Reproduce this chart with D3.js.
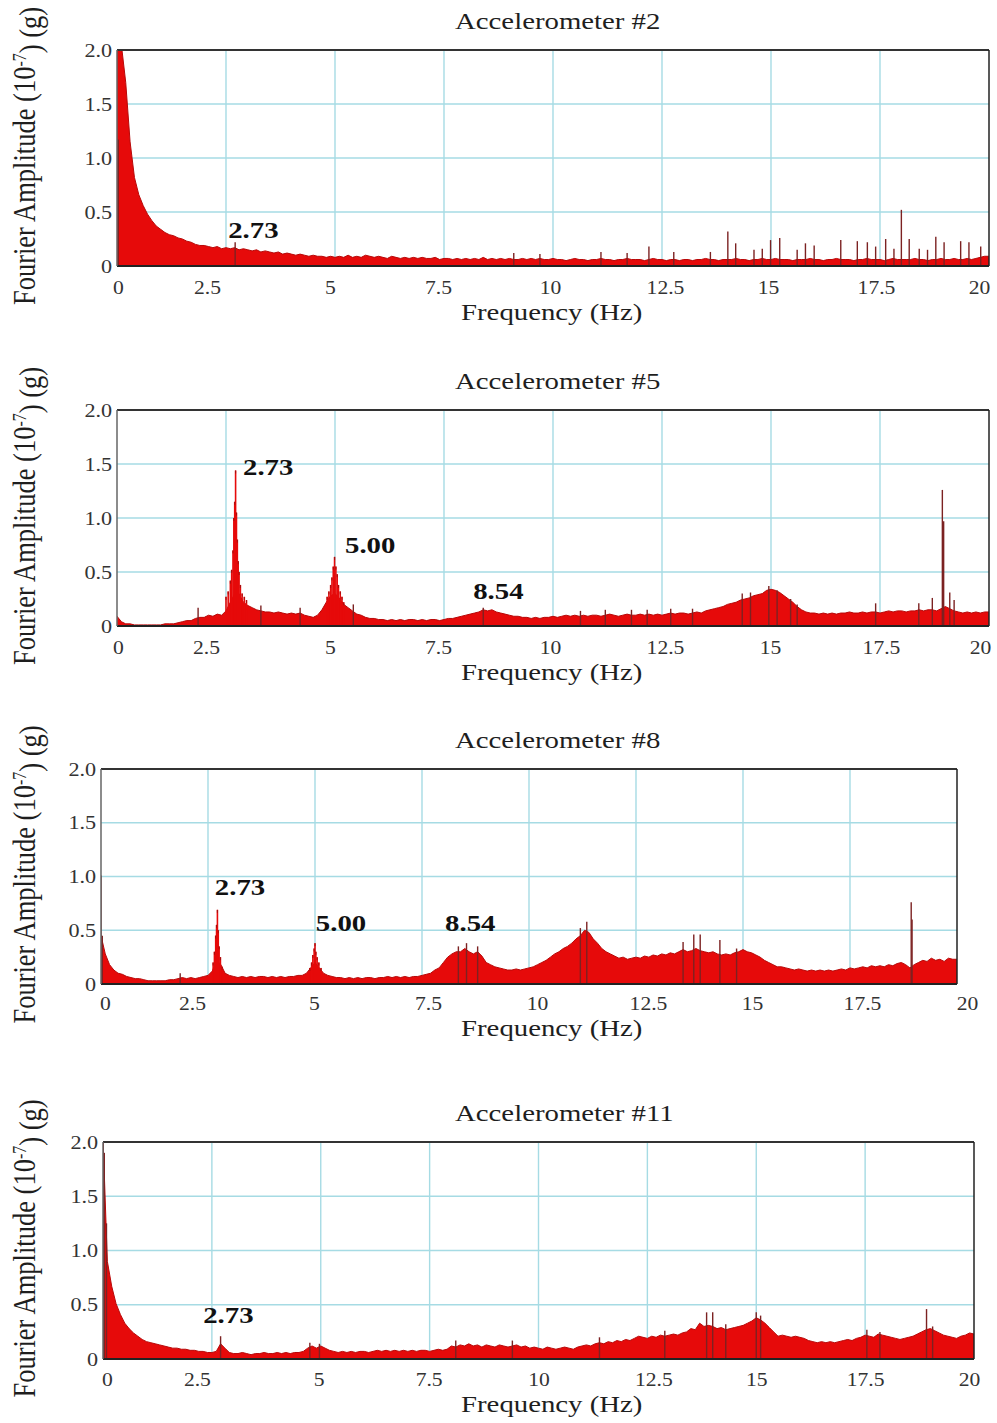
<!DOCTYPE html>
<html><head><meta charset="utf-8">
<script src="https://cdn.jsdelivr.net/npm/d3@7"></script>
<style>
body{margin:0;background:#fff}
svg{display:block}
text{font-family:"Liberation Serif","Times New Roman",serif;fill:#1e1e1e}
</style>
</head><body>
<svg id="chart" width="997" height="1423"></svg>
<script>
// ---------------- DATA ----------------
const xTicks = [0, 2.5, 5, 7.5, 10, 12.5, 15, 17.5, 20];
const xTickLabels = ["0", "2.5", "5", "7.5", "10", "12.5", "15", "17.5", "20"];
const yTicks = [0, 0.5, 1.0, 1.5, 2.0];
const yTickLabels = ["0", "0.5", "1.0", "1.5", "2.0"];
const titles = ["Accelerometer #2", "Accelerometer #5", "Accelerometer #8", "Accelerometer #11"];
const xLabel = "Frequency (Hz)";
const freqStep = 0.1; // spectrum sampled every 0.1 Hz, from 0 to 20 Hz

// Accelerometer #2 : spectrum envelope (0.0 .. 20.0 Hz)
const acc2Amp = [
 2.05,2.05,1.70,1.15,0.82,0.66,0.56,0.48,0.42,0.37,
 0.34,0.31,0.29,0.28,0.26,0.25,0.23,0.22,0.20,0.19,
 0.19,0.18,0.17,0.18,0.16,0.17,0.16,0.17,0.15,0.16,
 0.15,0.14,0.15,0.13,0.14,0.13,0.12,0.13,0.11,0.12,
 0.11,0.10,0.11,0.10,0.09,0.10,0.09,0.09,0.08,0.09,
 0.08,0.09,0.08,0.10,0.08,0.09,0.08,0.10,0.09,0.08,
 0.09,0.08,0.07,0.09,0.08,0.07,0.08,0.07,0.08,0.07,
 0.08,0.07,0.07,0.08,0.06,0.07,0.07,0.06,0.07,0.06,
 0.07,0.06,0.07,0.06,0.08,0.06,0.07,0.06,0.07,0.06,
 0.07,0.06,0.06,0.07,0.06,0.07,0.06,0.07,0.06,0.06,
 0.07,0.06,0.06,0.05,0.06,0.07,0.06,0.06,0.05,0.06,
 0.06,0.07,0.06,0.06,0.05,0.06,0.06,0.07,0.06,0.06,
 0.06,0.05,0.06,0.07,0.06,0.06,0.05,0.06,0.06,0.05,
 0.06,0.06,0.05,0.06,0.06,0.07,0.06,0.06,0.05,0.06,
 0.06,0.06,0.07,0.06,0.06,0.05,0.06,0.06,0.07,0.06,
 0.06,0.07,0.06,0.06,0.06,0.05,0.06,0.06,0.06,0.07,
 0.06,0.06,0.05,0.06,0.06,0.07,0.06,0.06,0.06,0.05,
 0.06,0.06,0.07,0.06,0.06,0.06,0.05,0.06,0.07,0.06,
 0.06,0.06,0.06,0.07,0.06,0.06,0.05,0.06,0.06,0.07,
 0.06,0.06,0.07,0.06,0.06,0.07,0.06,0.07,0.08,0.09,
 0.09];
const acc2Lines = [];
const acc2Spikes = [[0.03,1.17],[2.71,0.22],[9.1,0.12],[9.7,0.11],[11.1,0.13],[11.7,0.12],
 [12.2,0.18],[12.77,0.13],[13.61,0.13],[14.01,0.32],[14.19,0.21],[14.61,0.15],[14.8,0.16],
 [14.99,0.24],[15.2,0.26],[15.6,0.15],[15.79,0.21],[15.99,0.19],[16.6,0.24],[16.98,0.23],
 [17.21,0.22],[17.4,0.18],[17.63,0.25],[17.82,0.16],[17.99,0.52],[18.17,0.25],[18.4,0.16],
 [18.59,0.15],[18.78,0.27],[18.97,0.22],[19.35,0.23],[19.54,0.22],[19.81,0.18]];
const acc2Peaks = [["2.73", 2.55, 0.26]];

// Accelerometer #5
const acc5Amp = [
 0.09,0.04,0.02,0.02,0.01,0.01,0.01,0.01,0.01,0.01,
 0.01,0.02,0.02,0.02,0.03,0.04,0.05,0.05,0.07,0.08,
 0.08,0.10,0.09,0.11,0.10,0.14,0.22,0.30,0.30,0.22,
 0.19,0.17,0.15,0.14,0.13,0.13,0.12,0.13,0.12,0.11,
 0.12,0.11,0.12,0.10,0.09,0.08,0.10,0.15,0.22,0.28,
 0.30,0.26,0.20,0.17,0.14,0.11,0.10,0.08,0.07,0.07,
 0.06,0.06,0.05,0.06,0.05,0.06,0.05,0.06,0.06,0.05,
 0.06,0.05,0.06,0.06,0.05,0.06,0.07,0.07,0.08,0.09,
 0.10,0.11,0.12,0.13,0.15,0.14,0.15,0.13,0.12,0.11,
 0.10,0.09,0.09,0.08,0.08,0.07,0.08,0.07,0.08,0.08,
 0.09,0.08,0.09,0.10,0.09,0.10,0.09,0.10,0.09,0.10,
 0.10,0.09,0.10,0.11,0.10,0.09,0.10,0.11,0.10,0.10,
 0.11,0.10,0.11,0.10,0.11,0.10,0.11,0.12,0.11,0.12,
 0.12,0.11,0.12,0.13,0.12,0.14,0.15,0.16,0.17,0.18,
 0.20,0.21,0.22,0.24,0.25,0.26,0.28,0.29,0.30,0.33,
 0.34,0.33,0.31,0.28,0.25,0.22,0.18,0.15,0.13,0.12,
 0.12,0.11,0.12,0.11,0.12,0.11,0.12,0.12,0.13,0.12,
 0.12,0.13,0.12,0.13,0.13,0.12,0.13,0.14,0.13,0.14,
 0.14,0.13,0.14,0.14,0.15,0.14,0.15,0.15,0.14,0.16,
 0.18,0.16,0.14,0.13,0.12,0.13,0.12,0.13,0.12,0.13,
 0.13];
const acc5Lines = [[2.50,0.27],[2.55,0.32],[2.60,0.42],[2.63,0.52],[2.66,0.70],[2.68,1.00],[2.70,1.15],
 [2.72,1.44],[2.74,1.05],[2.76,0.80],[2.78,0.60],[2.80,0.50],[2.83,0.38],[2.87,0.30],[2.92,0.27],[2.97,0.24],
 [4.82,0.27],[4.86,0.32],[4.90,0.38],[4.93,0.45],[4.96,0.55],[4.99,0.64],[5.02,0.55],[5.05,0.48],
 [5.08,0.38],[5.12,0.32],[5.16,0.27],[5.20,0.22]];
const acc5Spikes = [[1.86,0.17],[3.3,0.19],[4.2,0.17],[5.42,0.2],[8.4,0.17],[10.63,0.14],[11.2,0.15],
 [11.8,0.15],[12.16,0.15],[12.7,0.16],[13.2,0.16],[14.34,0.30],[14.53,0.31],[14.95,0.37],[15.14,0.33],
 [15.45,0.25],[15.6,0.2],[17.4,0.21],[18.39,0.21],[18.7,0.26],[18.93,1.26],[18.96,0.97],[19.1,0.31],[19.2,0.24]];
const acc5Peaks = [["2.73", 2.89, 1.40], ["5.00", 5.23, 0.68], ["8.54", 8.17, 0.25]];

// Accelerometer #8
const acc8Amp = [
 0.45,0.28,0.18,0.13,0.10,0.09,0.07,0.06,0.05,0.05,
 0.04,0.03,0.03,0.03,0.03,0.03,0.04,0.04,0.05,0.06,
 0.05,0.06,0.05,0.06,0.07,0.08,0.12,0.22,0.18,0.10,
 0.08,0.07,0.06,0.07,0.06,0.07,0.06,0.07,0.07,0.06,
 0.07,0.06,0.07,0.06,0.07,0.07,0.08,0.08,0.10,0.15,
 0.20,0.15,0.10,0.08,0.07,0.06,0.06,0.05,0.06,0.05,
 0.06,0.05,0.06,0.06,0.05,0.06,0.06,0.07,0.06,0.07,
 0.06,0.07,0.06,0.07,0.07,0.08,0.09,0.10,0.13,0.15,
 0.20,0.25,0.28,0.30,0.30,0.33,0.30,0.28,0.30,0.26,
 0.20,0.18,0.16,0.15,0.14,0.13,0.13,0.14,0.13,0.14,
 0.15,0.16,0.18,0.20,0.22,0.25,0.28,0.30,0.33,0.35,
 0.38,0.42,0.45,0.50,0.48,0.42,0.38,0.33,0.30,0.28,
 0.26,0.24,0.25,0.23,0.24,0.25,0.24,0.26,0.25,0.27,
 0.26,0.28,0.27,0.29,0.28,0.30,0.32,0.30,0.31,0.33,
 0.31,0.30,0.29,0.30,0.28,0.27,0.28,0.27,0.29,0.30,
 0.32,0.30,0.29,0.27,0.25,0.22,0.20,0.18,0.16,0.16,
 0.15,0.14,0.13,0.14,0.13,0.12,0.13,0.12,0.13,0.12,
 0.13,0.12,0.13,0.14,0.13,0.15,0.14,0.15,0.16,0.15,
 0.17,0.16,0.17,0.16,0.18,0.17,0.19,0.20,0.18,0.15,
 0.18,0.20,0.22,0.21,0.24,0.22,0.23,0.21,0.24,0.23,
 0.23];
const acc8Lines = [[2.62,0.20],[2.65,0.30],[2.68,0.45],[2.70,0.55],[2.72,0.69],[2.74,0.50],[2.76,0.35],
 [2.79,0.25],[2.83,0.16],[4.88,0.15],[4.92,0.20],[4.95,0.27],[4.98,0.33],[5.00,0.38],[5.02,0.30],
 [5.05,0.25],[5.09,0.20],[5.14,0.15]];
const acc8Spikes = [[0.0,1.01],[0.03,0.45],[1.85,0.10],[8.35,0.35],[8.54,0.38],[8.8,0.35],[11.2,0.52],
 [11.35,0.58],[13.6,0.39],[13.85,0.46],[14.0,0.46],[14.46,0.41],[14.85,0.33],[18.93,0.76],[18.95,0.60]];
const acc8Peaks = [["2.73", 2.66, 0.83], ["5.00", 5.02, 0.49], ["8.54", 8.04, 0.49]];

// Accelerometer #11
const acc11Amp = [
 2.05,0.90,0.67,0.51,0.41,0.33,0.28,0.24,0.21,0.18,
 0.16,0.15,0.14,0.13,0.12,0.11,0.10,0.10,0.09,0.09,
 0.08,0.08,0.07,0.07,0.06,0.06,0.07,0.14,0.10,0.06,
 0.05,0.05,0.06,0.05,0.04,0.05,0.05,0.06,0.05,0.05,
 0.06,0.05,0.06,0.05,0.06,0.06,0.07,0.10,0.12,0.10,
 0.12,0.10,0.08,0.07,0.06,0.07,0.06,0.07,0.06,0.07,
 0.07,0.06,0.07,0.08,0.07,0.08,0.07,0.08,0.07,0.08,
 0.07,0.08,0.07,0.08,0.08,0.07,0.08,0.09,0.08,0.09,
 0.12,0.11,0.13,0.12,0.14,0.12,0.13,0.11,0.13,0.12,
 0.11,0.13,0.12,0.11,0.12,0.13,0.11,0.12,0.10,0.11,
 0.10,0.09,0.11,0.10,0.09,0.10,0.11,0.10,0.09,0.11,
 0.12,0.13,0.12,0.14,0.15,0.14,0.16,0.15,0.17,0.16,
 0.18,0.17,0.19,0.21,0.20,0.19,0.21,0.20,0.22,0.21,
 0.22,0.23,0.22,0.24,0.25,0.28,0.27,0.33,0.30,0.31,
 0.30,0.28,0.29,0.27,0.28,0.29,0.30,0.31,0.33,0.35,
 0.38,0.36,0.33,0.29,0.25,0.21,0.22,0.21,0.20,0.21,
 0.20,0.19,0.17,0.16,0.15,0.16,0.15,0.16,0.15,0.16,
 0.17,0.18,0.17,0.19,0.20,0.22,0.21,0.20,0.23,0.22,
 0.21,0.20,0.19,0.18,0.19,0.20,0.21,0.23,0.25,0.27,
 0.28,0.26,0.24,0.22,0.21,0.20,0.19,0.21,0.22,0.24,
 0.23];
const acc11Lines = [];
const acc11Spikes = [[0.0,2.0],[0.03,1.9],[0.08,1.25],[2.70,0.21],[4.75,0.15],[4.97,0.14],[8.1,0.17],
 [9.4,0.17],[11.4,0.2],[12.9,0.26],[13.86,0.43],[14.0,0.43],[14.3,0.32],[15.0,0.43],[15.1,0.4],
 [17.54,0.27],[17.84,0.25],[18.91,0.46],[19.05,0.3]];
const acc11Peaks = [["2.73", 2.30, 0.33]];

const panelsData = [
  {title: titles[0], amp: acc2Amp, lines: acc2Lines, spikes: acc2Spikes, peaks: acc2Peaks},
  {title: titles[1], amp: acc5Amp, lines: acc5Lines, spikes: acc5Spikes, peaks: acc5Peaks},
  {title: titles[2], amp: acc8Amp, lines: acc8Lines, spikes: acc8Spikes, peaks: acc8Peaks},
  {title: titles[3], amp: acc11Amp, lines: acc11Lines, spikes: acc11Spikes, peaks: acc11Peaks}
];

// ---------------- LAYOUT ----------------
const layout = [
  {x0: 117, x1: 989, top: 50,   bottom: 266,  tickY: 28, labelY: 54, tickDx: [1,-19,-5,-6,-3,3,-3,-4,-10]},
  {x0: 117, x1: 989, top: 410,  bottom: 626,  tickY: 28, labelY: 54, tickDx: [1,-20,-5,-6,-3,3,-1,1,-9]},
  {x0: 101, x1: 957, top: 769,  bottom: 984,  tickY: 26, labelY: 52, tickDx: [4,-16,-1,6,8,12,9,12,10]},
  {x0: 103, x1: 974, top: 1142, bottom: 1359, tickY: 27, labelY: 53, tickDx: [4,-15,-2,-1,0,6,0,0,-5]}
];
const SX = 1.2;           // horizontal stretch of glyphs in the original figure
const RED = "#e60a0a", RED_EDGE = "#b80808", SPIKE = "#7c2222", GRID = "#a6dbe4";
const SERIF = '"Liberation Serif","Times New Roman",serif';

const svg = d3.select("#chart");

panelsData.forEach((p, k) => {
  const L = layout[k];
  const x = d3.scaleLinear().domain([0, 20]).range([L.x0, L.x1]);
  const y = d3.scaleLinear().domain([0, 2]).range([L.bottom, L.top]);
  const g = svg.append("g");

  const clipId = "clip" + k;
  svg.append("clipPath").attr("id", clipId).append("rect")
    .attr("x", L.x0).attr("y", L.top).attr("width", L.x1 - L.x0).attr("height", L.bottom - L.top);

  // grid
  g.append("g").selectAll("line").data(xTicks.slice(1, -1)).join("line")
    .attr("x1", d => x(d)).attr("x2", d => x(d)).attr("y1", L.top).attr("y2", L.bottom)
    .attr("stroke", GRID).attr("stroke-width", 1.4);
  g.append("g").selectAll("line").data(yTicks.slice(1, -1)).join("line")
    .attr("y1", d => y(d)).attr("y2", d => y(d)).attr("x1", L.x0).attr("x2", L.x1)
    .attr("stroke", GRID).attr("stroke-width", 1.4);

  const plot = g.append("g").attr("clip-path", `url(#${clipId})`);

  // spectrum envelope
  const area = d3.area()
    .x((d, i) => x(i * freqStep)).y0(y(0)).y1(d => y(d))
    .curve(d3.curveLinear);
  plot.append("path").datum(p.amp).attr("d", area)
    .attr("fill", RED).attr("stroke", RED_EDGE).attr("stroke-width", 1).attr("stroke-linejoin", "miter");

  // narrow resonance peaks
  plot.append("g").selectAll("line").data(p.lines).join("line")
    .attr("x1", d => x(d[0])).attr("x2", d => x(d[0]))
    .attr("y1", y(0)).attr("y2", d => y(d[1]))
    .attr("stroke", RED).attr("stroke-width", 1.6);
  if (p.lines.length) {
    plot.append("g").selectAll("line").data(p.lines).join("line")
      .attr("x1", d => x(d[0])).attr("x2", d => x(d[0]))
      .attr("y1", d => y(d[1]) + 3).attr("y2", d => y(d[1]))
      .attr("stroke", "#a01010").attr("stroke-width", 1);
  }
  // isolated spikes
  plot.append("g").selectAll("line").data(p.spikes).join("line")
    .attr("x1", d => x(d[0])).attr("x2", d => x(d[0]))
    .attr("y1", y(0)).attr("y2", d => y(d[1]))
    .attr("stroke", SPIKE).attr("stroke-width", 1.4);

  // frame
  g.append("line").attr("x1", L.x0).attr("x2", L.x1).attr("y1", L.top).attr("y2", L.top)
    .attr("stroke", "#333").attr("stroke-width", 2);
  g.append("line").attr("x1", L.x0).attr("x2", L.x1).attr("y1", L.bottom).attr("y2", L.bottom)
    .attr("stroke", "#222").attr("stroke-width", 2);
  g.append("line").attr("x1", L.x0).attr("x2", L.x0).attr("y1", L.top).attr("y2", L.bottom)
    .attr("stroke", "#666").attr("stroke-width", 1.5);
  g.append("line").attr("x1", L.x1).attr("x2", L.x1).attr("y1", L.top).attr("y2", L.bottom)
    .attr("stroke", "#222").attr("stroke-width", 1.5);

  // axes
  const xa = g.append("g").attr("transform", `translate(0,${L.bottom})`)
    .call(d3.axisBottom(x).tickValues(xTicks).tickFormat((d, i) => xTickLabels[i]).tickSize(0));
  xa.select(".domain").remove();
  xa.selectAll("text").attr("y", L.tickY).attr("dy", null)
    .attr("transform", (d, i) => `translate(${L.tickDx[i]},0) scale(${SX},1)`)
    .style("font-family", SERIF).style("font-size", "18px").style("fill", "#333");

  const ya = g.append("g").attr("transform", `translate(${L.x0},0)`)
    .call(d3.axisLeft(y).tickValues(yTicks).tickFormat((d, i) => yTickLabels[i]).tickSize(0).tickPadding(4));
  ya.select(".domain").remove();
  ya.selectAll("text").attr("dy", "0.33em")
    .attr("transform", `scale(${SX},1)`)
    .style("font-family", SERIF).style("font-size", "18.5px").style("fill", "#333");

  // title
  g.append("text").attr("transform", `translate(455,${L.top - 21}) scale(${SX},1)`)
    .style("font-size", "24px").text(p.title);
  // x label
  g.append("text").attr("transform", `translate(461,${L.bottom + L.labelY}) scale(${SX},1)`)
    .style("font-size", "24px").text(xLabel);
  // y label
  const cy = (L.top + L.bottom) / 2 - 2;
  const yl = g.append("text").attr("transform", `translate(35,${cy}) scale(${SX},1) rotate(-90)`)
    .attr("text-anchor", "middle").style("font-size", "26.5px");
  yl.append("tspan").text("Fourier Amplitude (10");
  yl.append("tspan").attr("dy", "-0.45em").style("font-size", "16px").text("-7");
  yl.append("tspan").attr("dy", "0.45em").text(") (g)");

  // peak annotations
  g.append("g").selectAll("text").data(p.peaks).join("text")
    .attr("transform", d => `translate(${x(d[1])},${y(d[2])}) scale(${SX},1)`)
    .style("font-size", "24px").style("font-weight", "bold").style("fill", "#111")
    .text(d => d[0]);
});
</script>
</body></html>
